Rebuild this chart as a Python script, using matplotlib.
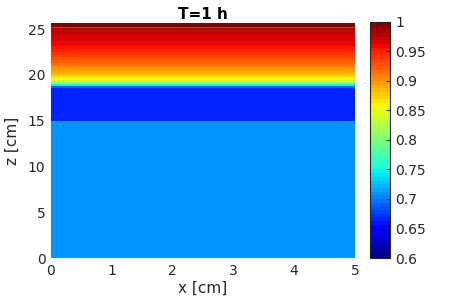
import numpy as np
import matplotlib

matplotlib.use("Agg")

import matplotlib.pyplot as plt

# ---------------------------------------------------------------------------
#  data  ----------------------------------------------------------------------
# ---------------------------------------------------------------------------
x_edges = [0.0, 5.0]

# layer boundaries along z [cm] and the value inside each layer
z_edges = [0.0, 15.0, 18.6, 18.8, 19.0, 19.2, 19.4, 19.6, 19.8, 20.0, 20.2,
           20.4, 20.7, 21.0, 21.3, 21.6, 21.9, 22.2, 22.5, 22.8, 23.1, 23.4,
           23.7, 24.0, 24.3, 24.6, 24.9, 25.15, 25.22, 25.65]
layer_vals = [0.707, 0.665, 0.690, 0.745, 0.800, 0.835, 0.850, 0.862, 0.873,
              0.882, 0.890, 0.898, 0.906, 0.914, 0.922, 0.929, 0.936, 0.942,
              0.947, 0.952, 0.957, 0.961, 0.965, 0.968, 0.971, 0.974, 0.977,
              0.950, 0.995]

cbar_ticks = [0.6, 0.65, 0.7, 0.75, 0.8, 0.85, 0.9, 0.95, 1.0]
cbar_labels = ["0.6", "0.65", "0.7", "0.75", "0.8", "0.85", "0.9", "0.95", "1"]

# ---------------------------------------------------------------------------
#  figure  --------------------------------------------------------------------
# ---------------------------------------------------------------------------
txt = "#262626"
plt.rcParams["font.family"] = "DejaVu Sans"

fig = plt.figure(figsize=(4.55, 3.0), dpi=100)
ax = fig.add_axes([0.112, 0.14, 0.668, 0.783])
cax = fig.add_axes([0.813, 0.14, 0.044, 0.787])

C = np.array(layer_vals).reshape(-1, 1)
mesh = ax.pcolormesh(x_edges, z_edges, C, cmap=plt.get_cmap("jet", 64),
                     vmin=0.6, vmax=1.0, shading="flat")

ax.set_xlim(0, 5)
ax.set_ylim(0, 25.65)
ax.set_xticks([0, 1, 2, 3, 4, 5])
ax.set_yticks([0, 5, 10, 15, 20, 25])
for s in ax.spines.values():
    s.set_visible(False)
ax.tick_params(length=0, labelsize=10, colors=txt, pad=4)
ax.set_xlabel("x [cm]", fontsize=11, color=txt, labelpad=2)
ax.set_ylabel("z [cm]", fontsize=11, color=txt, labelpad=6)
ax.set_title("T=1 h", fontsize=11, fontweight="bold", pad=3)

cb = fig.colorbar(mesh, cax=cax, ticks=cbar_ticks)
cb.ax.set_yticklabels(cbar_labels)
cb.ax.tick_params(direction="in", length=3, labelsize=10, colors=txt, pad=4)
cb.outline.set_edgecolor(txt)
cb.outline.set_linewidth(0.8)

fig.savefig("out.png", dpi=100)
